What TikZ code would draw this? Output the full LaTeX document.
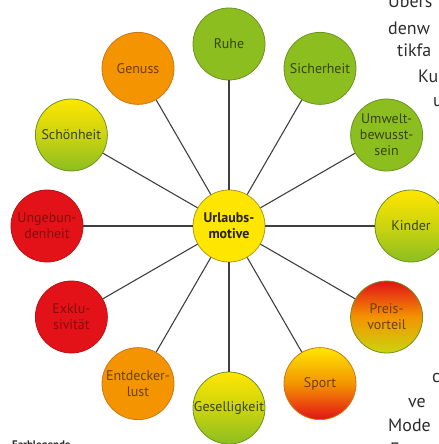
\documentclass[tikz,border=0pt]{standalone}
\usepackage{fontspec}
\setmainfont{PT Sans}
\usetikzlibrary{positioning}

% Farben der Motive
\definecolor{gruen}{RGB}{140,190,32}
\definecolor{gelb}{RGB}{255,230,0}
\definecolor{orange}{RGB}{243,148,0}
\definecolor{rot}{RGB}{226,18,24}
\definecolor{randgruen}{RGB}{108,148,30}
\definecolor{randgelb}{RGB}{175,155,25}
\definecolor{randorange}{RGB}{205,120,20}
\definecolor{randrot}{RGB}{185,20,20}
\definecolor{schriftgruen}{RGB}{55,68,18}
\definecolor{schriftorange}{RGB}{110,62,5}
\definecolor{schriftrot}{RGB}{135,12,12}
\definecolor{fliesstext}{RGB}{45,45,45}

\tikzset{
  motiv/.style={circle, draw, line width=0.8bp, minimum size=72bp, inner sep=0pt,
    align=center, font=\fontsize{14}{16}\selectfont},
  gruenmotiv/.style={motiv, fill=gruen, draw=randgruen, text=schriftgruen},
  orangemotiv/.style={motiv, fill=orange, draw=randorange, text=schriftorange},
  rotmotiv/.style={motiv, fill=rot, draw=randrot, text=schriftrot},
  verlaufmotiv/.style={motiv, top color=gelb, bottom color=gruen, middle color=gelb!55!gruen,
    draw=randgruen, text=schriftgruen},
  speiche/.style={draw=black!75, line width=1.1bp},
  randtext/.style={anchor=base west, inner sep=0pt, text=fliesstext, font=\fontsize{18}{22}\selectfont}
}

\begin{document}
\begin{tikzpicture}[x=1bp, y=1bp]
  \clip (-229,-218) rectangle (210,226);

  % Mitte
  \node[motiv, fill=gelb, draw=randgelb, text=black!85!gelb,
    font=\bfseries\fontsize{14}{16}\selectfont] (mot) at (0,0) {Urlaubs-\\motive};

  % Motive im Kreis
  \node[gruenmotiv] (ruhe) at (90:182) {Ruhe};
  \node[gruenmotiv] (sicher) at (60:182) {Sicherheit};
  \node[gruenmotiv] (umwelt) at (30:182) {Umwelt-\\bewusst-\\sein};
  \node[verlaufmotiv] (kinder) at (0:182) {Kinder};
  \node[motiv, top color=rot, bottom color=gelb!55!gruen, middle color=orange,
    draw=randgruen, text=schriftorange] (preis) at (-30:182) {Preis-\\vorteil};
  \node[motiv, top color=gelb, bottom color=rot, middle color=orange,
    draw=randorange, text=schriftorange] (sport) at (-60:182) {Sport};
  \node[verlaufmotiv] (gesell) at (-90:182) {Geselligkeit};
  \node[orangemotiv] (entdeck) at (-120:182) {Entdecker-\\lust};
  \node[rotmotiv] (exklusiv) at (-150:182) {Exklu-\\sivität};
  \node[rotmotiv] (ungebund) at (180:182) {Ungebun-\\denheit};
  \node[verlaufmotiv] (schoen) at (150:182) {Schönheit};
  \node[orangemotiv] (genuss) at (120:182) {Genuss};

  \draw[speiche] (mot) -- (ruhe);
  \draw[speiche] (mot) -- (sicher);
  \draw[speiche] (mot) -- (umwelt);
  \draw[speiche] (mot) -- (kinder);
  \draw[speiche] (mot) -- (preis);
  \draw[speiche] (mot) -- (sport);
  \draw[speiche] (mot) -- (gesell);
  \draw[speiche] (mot) -- (entdeck);
  \draw[speiche] (mot) -- (exklusiv);
  \draw[speiche] (mot) -- (ungebund);
  \draw[speiche] (mot) -- (schoen);
  \draw[speiche] (mot) -- (genuss);

  % angeschnittener Fliesstext rechts
  \node[randtext] (z1) at (159,218) {Übers};
  \node[randtext] (z2) at (159,191) {denw};
  \node[randtext] (z3) at (168,169) {tikfa};
  \node[randtext] (z4) at (189,143) {Ku};
  \node[randtext] (z5) at (204,119) {u};
  \node[randtext] (z6) at (203,-156) {c};
  \node[randtext] (z7) at (179,-181) {ve};
  \node[randtext] (z8) at (159,-205) {Mode};
  \node[randtext] (z9) at (161,-229) {E};

  % Legende unten links
  \node[anchor=base west, inner sep=0pt, text=fliesstext,
    font=\bfseries\fontsize{11}{13}\selectfont] (legende) at (-217,-222) {Farblegende};
\end{tikzpicture}
\end{document}
